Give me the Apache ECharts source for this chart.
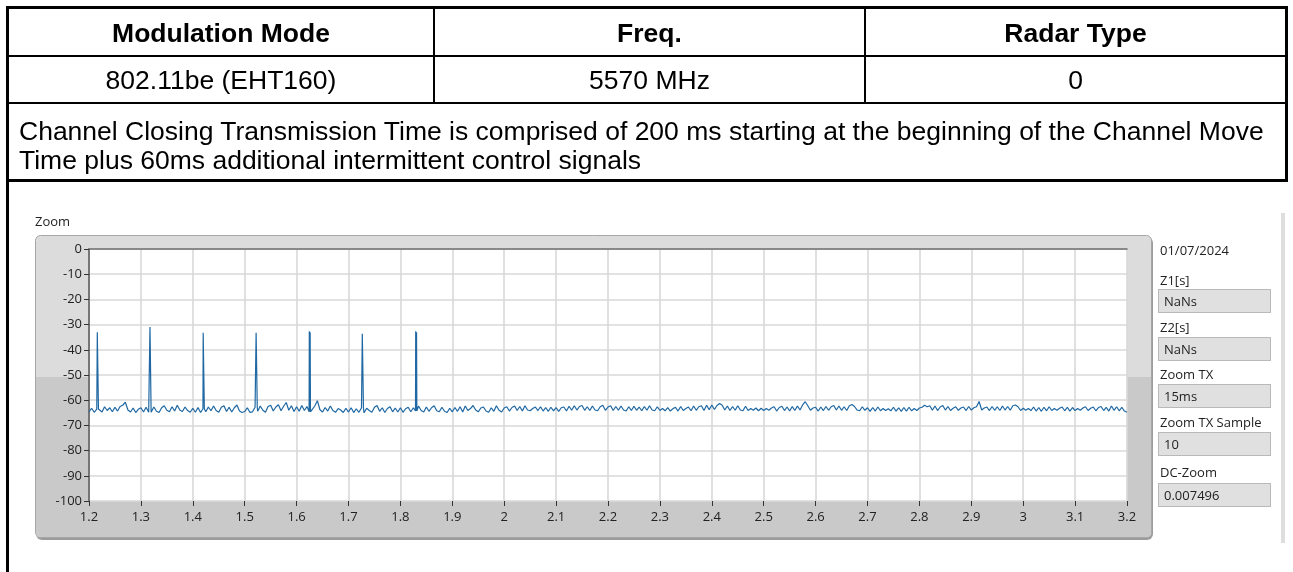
<!DOCTYPE html>
<html>
<head>
<meta charset="utf-8">
<script src="https://cdn.jsdelivr.net/npm/echarts@6/dist/echarts.min.js"></script>
<style>
  html, body { margin:0; padding:0; background:#fff; }
  body { width:1293px; height:572px; overflow:hidden; position:relative; font-family:"Liberation Sans", Arial, sans-serif; }
  #chart { position:absolute; left:0; top:0; width:1293px; height:572px; }
  .ln { position:absolute; background:#000; }
  .cell { position:absolute; color:#000; white-space:nowrap; font-size:26.5px; line-height:30px; }
  .hd { font-weight:bold; text-align:center; }
  .ctr { text-align:center; }
  .pl { position:absolute; left:1160px; font-family:"Open Sans","Noto Sans",sans-serif; font-size:13px; color:#222; line-height:16px; white-space:nowrap; }
  .bx { position:absolute; left:1158px; width:113px; height:24px; background:#e0e0e0; border:1px solid #b9b9b9; box-sizing:border-box;
        font-family:"Open Sans","Noto Sans",sans-serif; font-size:13px; color:#222; line-height:22px; padding-left:5px; white-space:nowrap; }
</style>
</head>
<body>
<div id="chart"></div>

<!-- table lines -->
<div class="ln" style="left:6px;top:6px;width:1282px;height:3px"></div>
<div class="ln" style="left:6px;top:6px;width:3px;height:566px"></div>
<div class="ln" style="left:1285px;top:6px;width:3px;height:176px"></div>
<div class="ln" style="left:6px;top:55px;width:1282px;height:2px"></div>
<div class="ln" style="left:6px;top:102px;width:1282px;height:2px"></div>
<div class="ln" style="left:6px;top:179px;width:1282px;height:3px"></div>
<div class="ln" style="left:433px;top:6px;width:2px;height:98px"></div>
<div class="ln" style="left:864px;top:6px;width:2px;height:98px"></div>

<div id="h0" class="cell hd" style="left:9px;width:424px;top:18px"></div>
<div id="h1" class="cell hd" style="left:435px;width:429px;top:18px"></div>
<div id="h2" class="cell hd" style="left:866px;width:419px;top:18px"></div>
<div id="r0" class="cell ctr" style="left:9px;width:424px;top:65px"></div>
<div id="r1" class="cell ctr" style="left:435px;width:429px;top:65px"></div>
<div id="r2" class="cell ctr" style="left:866px;width:419px;top:65px"></div>
<div id="n0" class="cell" style="left:19px;top:116px"></div>
<div id="n1" class="cell" style="left:19px;top:145px"></div>

<!-- side panel -->
<div id="pdate" class="pl" style="top:242px"></div>
<div id="pl0" class="pl" style="top:272px"></div>
<div id="pb0" class="bx" style="top:289px"></div>
<div id="pl1" class="pl" style="top:319px"></div>
<div id="pb1" class="bx" style="top:337px"></div>
<div id="pl2" class="pl" style="top:366px"></div>
<div id="pb2" class="bx" style="top:384px"></div>
<div id="pl3" class="pl" style="top:414px"></div>
<div id="pb3" class="bx" style="top:432px"></div>
<div id="pl4" class="pl" style="top:464px"></div>
<div id="pb4" class="bx" style="top:483px"></div>
<div style="position:absolute;left:1281px;top:213px;width:4px;height:330px;background:#dedede"></div>

<script>
// ---- table text ----
var headers = ["Modulation Mode", "Freq.", "Radar Type"];
var rowValues = ["802.11be (EHT160)", "5570 MHz", "0"];
var noteLines = [
  "Channel Closing Transmission Time is comprised of 200 ms starting at the beginning of the Channel Move",
  "Time plus 60ms additional intermittent control signals"
];
// ---- side panel ----
var panelDate = "01/07/2024";
var panelLabels = ["Z1[s]", "Z2[s]", "Zoom TX", "Zoom TX Sample", "DC-Zoom"];
var panelValues = ["NaNs", "NaNs", "15ms", "10", "0.007496"];
// ---- chart ----
var chartTitle = "Zoom";
var xTicks = [1.2, 1.3, 1.4, 1.5, 1.6, 1.7, 1.8, 1.9, 2, 2.1, 2.2, 2.3, 2.4, 2.5, 2.6, 2.7, 2.8, 2.9, 3, 3.1, 3.2];
var yTicks = [0, -10, -20, -30, -40, -50, -60, -70, -80, -90, -100];
var sampleStart = 1.2;   // s
var sampleStep = 0.005;  // s
// noise floor (dB), one value per sample from 1.2 s to 3.2 s
var noiseDb = [
 -64.6,-63.2,-64.8,-63.5,-62.9,-64.7,-62.6,-64.1,-63.0,-64.6,-62.8,-64.3,-62.5,-62.0,-60.8,-63.9,-64.7,-63.1,-64.9,-63.6,
 -63.0,-64.7,-62.8,-64.8,-64.2,-62.7,-64.4,-64.9,-63.0,-62.2,-64.0,-64.6,-62.6,-64.3,-62.0,-63.9,-64.5,-62.7,-64.1,-64.8,
 -63.2,-64.8,-62.9,-64.9,-63.4,-64.6,-62.7,-64.2,-62.3,-64.1,-64.8,-62.8,-62.2,-64.5,-62.8,-64.7,-63.0,-61.9,-64.3,-64.9,
 -64.5,-63.0,-64.8,-64.6,-62.8,-64.4,-62.3,-64.0,-64.8,-62.5,-62.0,-64.3,-62.7,-61.8,-64.2,-62.4,-60.9,-64.0,-62.2,-64.5,
 -62.6,-64.4,-62.1,-64.1,-62.5,-64.6,-64.2,-62.3,-60.2,-63.8,-64.7,-62.9,-64.3,-62.3,-64.1,-64.8,-63.3,-63.9,-64.9,-63.2,
 -64.7,-63.0,-64.9,-63.4,-64.8,-63.1,-65.0,-63.2,-64.1,-64.8,-62.8,-62.1,-64.4,-63.0,-64.9,-63.3,-62.6,-64.6,-63.1,-64.7,
 -63.0,-64.8,-63.4,-62.8,-64.6,-63.0,-64.3,-62.3,-64.1,-64.7,-62.7,-64.4,-63.0,-62.2,-64.2,-64.6,-62.8,-64.4,-64.9,-63.2,
 -64.6,-62.9,-64.4,-62.6,-64.7,-62.3,-64.1,-63.3,-62.1,-63.9,-64.6,-63.1,-62.7,-64.3,-64.8,-63.0,-64.4,-62.2,-64.0,-64.7,
 -63.1,-62.6,-64.3,-62.9,-62.3,-64.1,-62.5,-64.3,-62.2,-63.9,-64.2,-63.3,-62.7,-64.1,-62.6,-64.3,-62.9,-64.4,-62.8,-64.2,
 -62.9,-64.4,-63.0,-62.7,-64.3,-62.4,-64.0,-62.2,-63.9,-62.5,-62.1,-64.0,-62.6,-64.1,-62.3,-63.9,-64.2,-62.6,-62.0,-64.0,
 -62.7,-62.2,-64.1,-62.5,-64.0,-62.3,-63.9,-64.3,-62.6,-64.1,-62.4,-64.0,-62.7,-64.2,-62.5,-64.0,-62.2,-63.9,-64.2,-62.6,
 -64.1,-63.3,-64.2,-62.9,-64.3,-63.4,-62.8,-64.3,-62.5,-64.1,-63.3,-62.7,-64.2,-62.3,-64.0,-62.6,-62.2,-64.1,-62.0,-63.8,
 -61.9,-63.7,-62.1,-61.3,-62.0,-63.9,-62.3,-64.1,-62.5,-64.0,-62.2,-63.9,-64.2,-62.4,-64.1,-63.3,-64.0,-63.1,-64.2,-63.2,
 -64.1,-63.3,-64.0,-63.1,-62.6,-64.3,-62.9,-62.4,-64.1,-62.7,-64.3,-62.5,-64.1,-62.3,-63.9,-61.9,-60.6,-62.2,-64.0,-63.1,
 -62.8,-64.3,-62.7,-64.1,-62.5,-64.0,-62.6,-62.1,-63.9,-62.3,-64.0,-62.6,-64.1,-62.2,-61.7,-62.5,-63.9,-64.2,-62.6,-64.0,
 -63.0,-64.4,-62.9,-64.3,-62.7,-64.2,-63.3,-64.1,-63.4,-64.2,-62.8,-64.3,-63.0,-64.4,-62.9,-64.3,-62.8,-64.2,-63.3,-64.1,
 -63.1,-62.8,-62.0,-62.6,-62.2,-64.0,-62.3,-64.1,-62.7,-62.1,-63.9,-62.5,-64.1,-63.2,-62.6,-64.0,-63.1,-62.7,-64.1,-62.5,
 -63.9,-63.0,-62.6,-60.5,-63.9,-63.1,-62.7,-64.1,-62.5,-64.0,-62.6,-64.1,-62.3,-63.9,-62.5,-64.0,-62.2,-61.9,-62.6,-64.1,
 -63.2,-64.0,-63.3,-64.1,-62.7,-64.3,-62.9,-64.4,-62.8,-64.2,-62.6,-64.1,-63.3,-64.0,-63.2,-62.7,-64.2,-62.8,-64.3,-62.9,
 -64.1,-63.3,-64.0,-63.1,-62.6,-64.1,-63.2,-62.7,-64.2,-62.9,-62.5,-64.1,-62.8,-64.3,-62.3,-64.0,-62.6,-64.2,-62.8,-64.3,
 -64.8
];
// control-signal bursts: time (s) and peak level (dB)
var burstTimes = [1.216, 1.3175, 1.420, 1.522, 1.6245, 1.7266, 1.8295];
var burstPeaks = [-33.0, -31.0, -33.2, -33.2, -32.6, -33.6, -32.6];
var burstTail  = [-33.5, -31.5, -33.8, -33.6, -33.0, -34.0, -33.0];

// fill texts
headers.forEach(function(t,i){ document.getElementById('h'+i).textContent = t; });
rowValues.forEach(function(t,i){ document.getElementById('r'+i).textContent = t; });
noteLines.forEach(function(t,i){ document.getElementById('n'+i).textContent = t; });
document.getElementById('pdate').textContent = panelDate;
panelLabels.forEach(function(t,i){ document.getElementById('pl'+i).textContent = t; });
panelValues.forEach(function(t,i){ document.getElementById('pb'+i).textContent = t; });

// build trace
var pts = noiseDb.map(function(v,i){ return [+(sampleStart + i*sampleStep).toFixed(4), v]; });
burstTimes.forEach(function(t,k){
  var idx = Math.round((t - sampleStart)/sampleStep);
  var foot = noiseDb[idx];
  pts.push([t - 0.0004, foot]);
  pts.push([t, burstPeaks[k]]);
  pts.push([t + 0.0016, burstTail[k]]);
  pts.push([t + 0.0022, foot]);
});
pts.sort(function(a,b){ return a[0]-b[0]; });

var chart = echarts.init(document.getElementById('chart'), null, {renderer:'canvas'});
var uiFont = '"Open Sans","Noto Sans",sans-serif';
chart.setOption({
  animation:false,
  backgroundColor:'transparent',
  graphic:[
    {type:'text', left:35, top:216, z:-10, style:{text:chartTitle, font:'13px '+uiFont, fill:'#222'}},
    {type:'rect', z:-10, shape:{x:36, y:237, width:1117, height:303, r:6}, style:{fill:'#9c9c9c'}},
    {type:'rect', z:-9, shape:{x:35.5, y:235.5, width:1116, height:302, r:5}, style:{fill:'#dcdcdc', stroke:'#a6a6a6', lineWidth:1}},
    {type:'rect', z:-8, shape:{x:36, y:377, width:1115, height:160, r:[0,0,4,4]}, style:{fill:'#c9c9c9'}}
  ],
  grid:{left:89, top:249, width:1038, height:252, show:true, backgroundColor:'#ffffff', borderWidth:0},
  xAxis:[{
    type:'value', min:xTicks[0], max:xTicks[xTicks.length-1], interval:0.1, position:'bottom',
    axisLine:{show:false, onZero:false},
    axisTick:{show:true, length:5, lineStyle:{color:'#333', width:1}},
    axisLabel:{margin:10, color:'#222', fontSize:13, fontFamily:uiFont,
      formatter:function(v){ var r = Math.round(v*10)/10; return xTicks.indexOf(r) >= 0 ? String(r) : ''; }},
    splitLine:{show:true, lineStyle:{color:'#d9d9d9', width:1.6}}
  },{
    type:'value', position:'top', min:xTicks[0], max:xTicks[xTicks.length-1],
    axisLine:{show:true, onZero:false, lineStyle:{color:'#6e6e6e', width:1.5}},
    axisTick:{show:false}, axisLabel:{show:false}, splitLine:{show:false}
  }],
  yAxis:{
    type:'value', min:yTicks[yTicks.length-1], max:yTicks[0], interval:10,
    axisLine:{show:true, onZero:false, lineStyle:{color:'#555', width:1.5}},
    axisTick:{show:true, length:5, lineStyle:{color:'#333', width:1}},
    axisLabel:{margin:7, color:'#222', fontSize:13, fontFamily:uiFont},
    splitLine:{show:true, lineStyle:{color:'#d9d9d9', width:1.6}}
  },
  series:[{
    type:'line', data:pts, showSymbol:false, symbol:'none', xAxisIndex:0,
    lineStyle:{color:'#1f68a3', width:1.2}, z:3
  }]
});
</script>
</body>
</html>
